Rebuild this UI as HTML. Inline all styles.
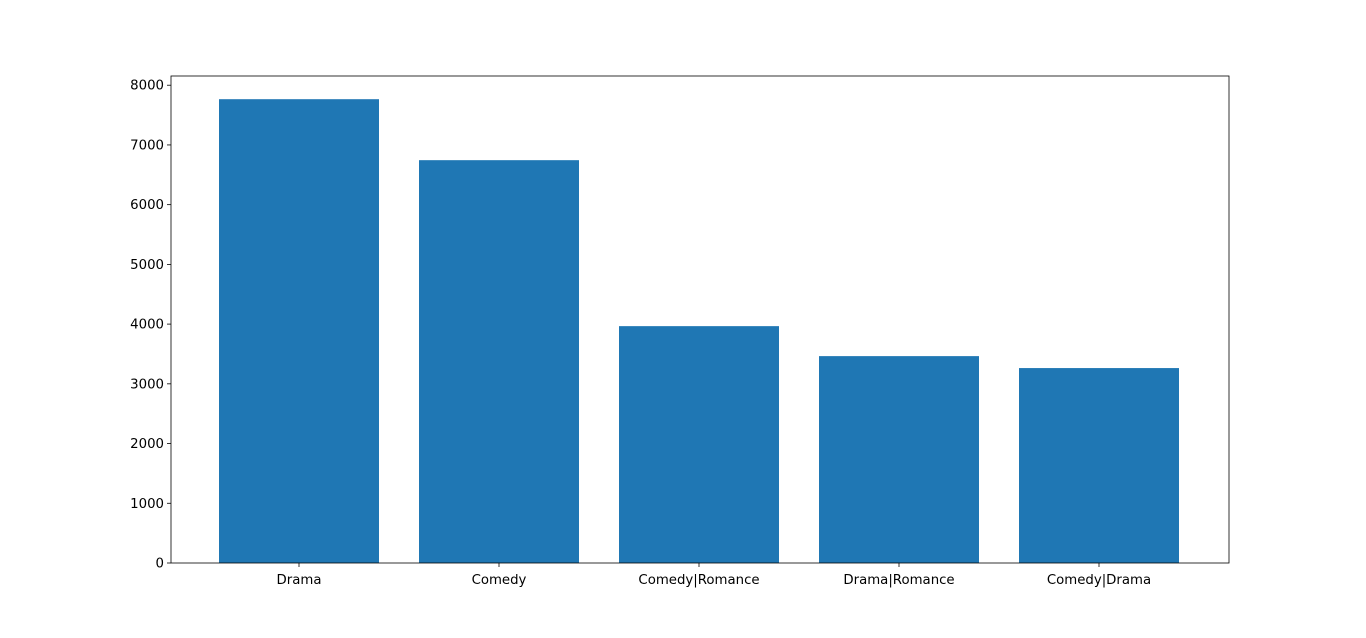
<!DOCTYPE html>
<html><head><meta charset="utf-8"><style>
html,body{margin:0;padding:0;background:#fff;}
svg text{font-family:"DejaVu Sans","Liberation Sans",sans-serif;font-size:13.3px;fill:#000;}
</style></head><body>
<svg id="chart" width="1366" height="633" xmlns="http://www.w3.org/2000/svg">
<rect width="1366" height="633" fill="#fff"/>
<g id="bars"></g>
<g id="axes"></g>
</svg>
<script>
const categories = ["Drama","Comedy","Comedy|Romance","Drama|Romance","Comedy|Drama"];
const values = [7766,6745,3966,3464,3264];
const yTicks = [0,1000,2000,3000,4000,5000,6000,7000,8000];

const L=171,R=1229,T=76,B=563;
const ns="http://www.w3.org/2000/svg";
const yMax=Math.max(...values)*1.05;
const xMin=-0.64,xMax=categories.length-1+0.65;
const xs=v=>L+(v-xMin)/(xMax-xMin)*(R-L);
const ys=v=>B-v/yMax*(B-T);
function mk(tag,attrs,parent){const e=document.createElementNS(ns,tag);for(const k in attrs)e.setAttribute(k,attrs[k]);parent.appendChild(e);return e;}
const bars=document.getElementById('bars'),axes=document.getElementById('axes');
categories.forEach((c,i)=>{
  const x0=xs(i-0.4),x1=xs(i+0.4);
  const r=mk('rect',{x:x0,y:ys(values[i]),width:x1-x0,height:B-ys(values[i]),fill:'#1f77b4'},bars);
  
  
  mk('line',{x1:xs(i),x2:xs(i),y1:B,y2:B+4,stroke:'#000','stroke-width':0.8},axes);
  const lb=mk('text',{x:xs(i),y:B+21,'text-anchor':'middle'},axes);
  lb.textContent=c;
  
  
});
yTicks.forEach(v=>{
  mk('line',{x1:L-4,x2:L,y1:ys(v),y2:ys(v),stroke:'#000','stroke-width':0.8},axes);
  const lb=mk('text',{x:L-7,y:ys(v)+4.5,'text-anchor':'end'},axes);
  lb.textContent=v;
  
  
});
const f=mk('rect',{x:L,y:T,width:R-L,height:B-T,fill:'none',stroke:'#000','stroke-width':0.8},axes);


</script>
</body></html>
